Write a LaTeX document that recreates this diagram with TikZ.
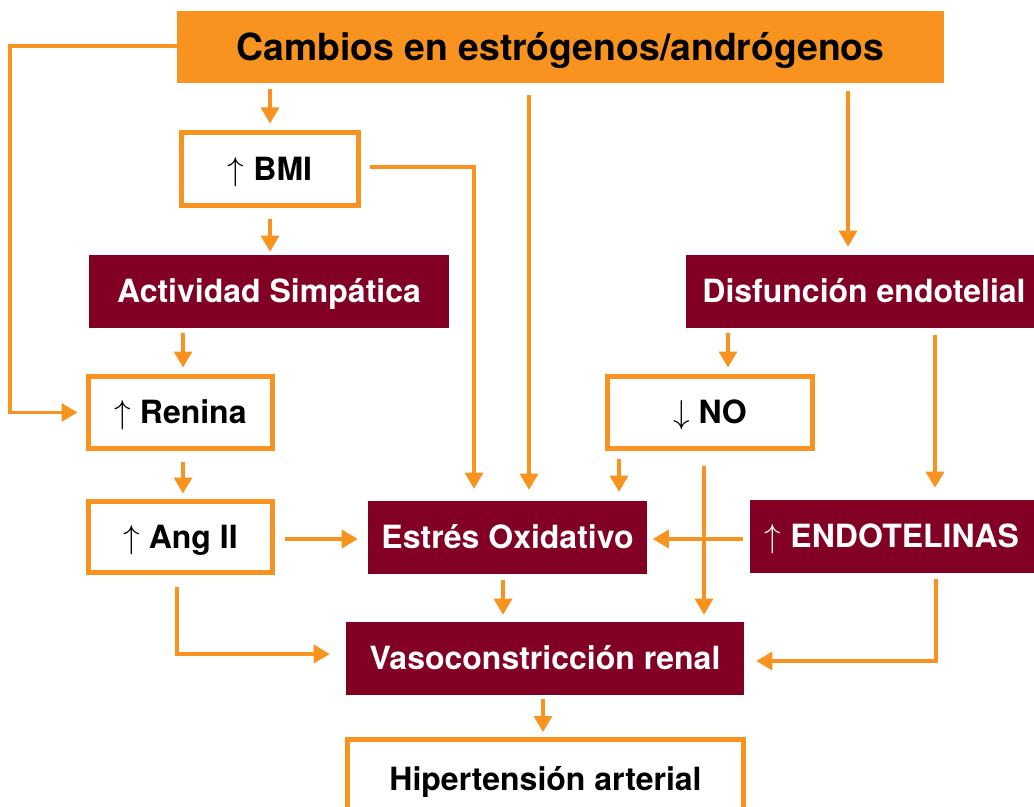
\documentclass[tikz,border=0pt]{standalone}
\usepackage{fontspec}
\setmainfont{TeX Gyre Heros}
\usetikzlibrary{arrows.meta,calc}
\definecolor{org}{HTML}{F7931E}
\definecolor{mar}{HTML}{820024}
\newdimen\px \px=0.75pt
\newcommand\uparr{$\uparrow$}
\newcommand\dnarr{$\downarrow$}
\begin{document}
\begin{tikzpicture}[x=0.75pt,y=-0.75pt,
  every node/.style={font=\fontsize{24}{28}\selectfont\bfseries, inner sep=0pt, align=center, text height=17.2pt, text depth=0pt},
  topbox/.style={fill=org, text=black, font=\fontsize{28}{32}\selectfont\bfseries, text height=20.1pt},
  obox/.style={draw=org, line width=5\px, fill=white, text=black},
  mbox/.style={fill=mar, text=white},
  arr/.style={draw=org, line width=3.3\px, -{Triangle[length=12pt,width=13.5pt]}}
]
\useasboundingbox (0,0) rectangle (1034,806);
\clip (0,0) rectangle (1034,806);
\fill[white] (0,0) rectangle (1034,806);

% nodes
\node[topbox, minimum width=767\px, minimum height=72\px] (top) at (560.5,47) {Cambios en estrógenos/andrógenos};
\node[obox, minimum width=177\px, minimum height=73\px] (bmi) at (270,169) {\uparr{} BMI};
\node[mbox, minimum width=360\px, minimum height=73\px] (act) at (269,291.5) {Actividad Simpática};
\node[obox, minimum width=184\px, minimum height=72\px] (ren) at (180.5,412.5) {\uparr{} Renina};
\node[obox, minimum width=184\px, minimum height=71\px] (ang) at (180.5,537) {\uparr{} Ang II};
\node[mbox, minimum width=279\px, minimum height=73\px] (est) at (507.5,537.5) {Estrés Oxidativo};
\node[mbox, minimum width=356\px, minimum height=73\px] (dis) at (864,291.5) {Disfunción endotelial};
\node[obox, minimum width=205\px, minimum height=72\px] (no) at (710,412.5) {\dnarr{} NO};
\node[mbox, minimum width=284\px, minimum height=73\px] (endo) at (892,536.5) {\uparr{} ENDOTELINAS};
\node[mbox, minimum width=398\px, minimum height=73\px] (vaso) at (545,658.5) {Vasoconstricción renal};
\node[obox, minimum width=396\px, minimum height=78.5\px] (hip) at (545.5,778.75) {Hipertensión arterial};

% helper coordinates
\coordinate (lft) at (10,0);
\coordinate (yT) at (0,46);
\coordinate (yB) at (0,167);
\coordinate (xA) at (529,0);
\coordinate (xB) at (848,0);
\coordinate (xC) at (474,0);
\coordinate (xD) at (183,0);
\coordinate (xE) at (177,0);
\coordinate (yE) at (0,654);
\coordinate (xF) at (503,0);
\coordinate (xG) at (619,0);
\coordinate (xH) at (704,0);
\coordinate (xI) at (728,0);
\coordinate (xJ) at (935,0);
\coordinate (yK) at (0,539);
\coordinate (xL) at (936,0);
\coordinate (yL) at (0,661);
\coordinate (xM) at (543,0);

% connectors
\draw[arr, shorten >=8.5\px] (top.west |- yT) -| (lft |- ren.west) -- (ren.west);
\draw[arr, shorten <=6\px, shorten >=6.5\px] (top.south -| bmi) -- (bmi.north);
\draw[arr, shorten <=12\px, shorten >=11\px] (top.south -| xA) -- (est.north -| xA);
\draw[arr, shorten <=8\px, shorten >=8\px] (top.south -| xB) -- (dis.north -| xB);
\draw[arr, shorten <=8.5\px, shorten >=12\px] (bmi.east |- yB) -| (est.north -| xC);
\draw[arr, shorten <=10.5\px, shorten >=3\px] (bmi.south) -- (act.north -| bmi.south);
\draw[arr, shorten <=5\px, shorten >=6.5\px] (act.south -| xD) -- (ren.north -| xD);
\draw[arr, shorten <=10.5\px, shorten >=5.5\px] (ren.south -| xD) -- (ang.north -| xD);
\draw[arr, shorten <=9.5\px, shorten >=10\px] (ang.east |- yK) -- (est.west |- yK);
\draw[arr, shorten <=11.5\px, shorten >=16\px] (ang.south -| xE) |- (vaso.west |- yE);
\draw[arr, shorten <=6\px, shorten >=7\px] (est.south -| xF) -- (vaso.north -| xF);
\draw[arr, shorten <=7.5\px, shorten >=9\px] (no.south -| xG) -- (est.north -| xG);
\draw[arr, shorten <=14.5\px, shorten >=7\px] (no.south -| xH) -- (vaso.north -| xH);
\draw[arr, shorten <=5\px, shorten >=6.5\px] (dis.south -| xI) -- (no.north -| xI);
\draw[arr, shorten <=7\px, shorten >=12\px] (dis.south -| xJ) -- (endo.north -| xJ);
\draw[arr, shorten <=7\px, shorten >=5.5\px] (endo.west |- yK) -- (est.east |- yK);
\draw[arr, shorten <=6\px, shorten >=12\px] (endo.south -| xL) |- (vaso.east |- yL);
\draw[arr, shorten <=4\px, shorten >=5\px] (vaso.south -| xM) -- (hip.north -| xM);
\end{tikzpicture}
\end{document}
